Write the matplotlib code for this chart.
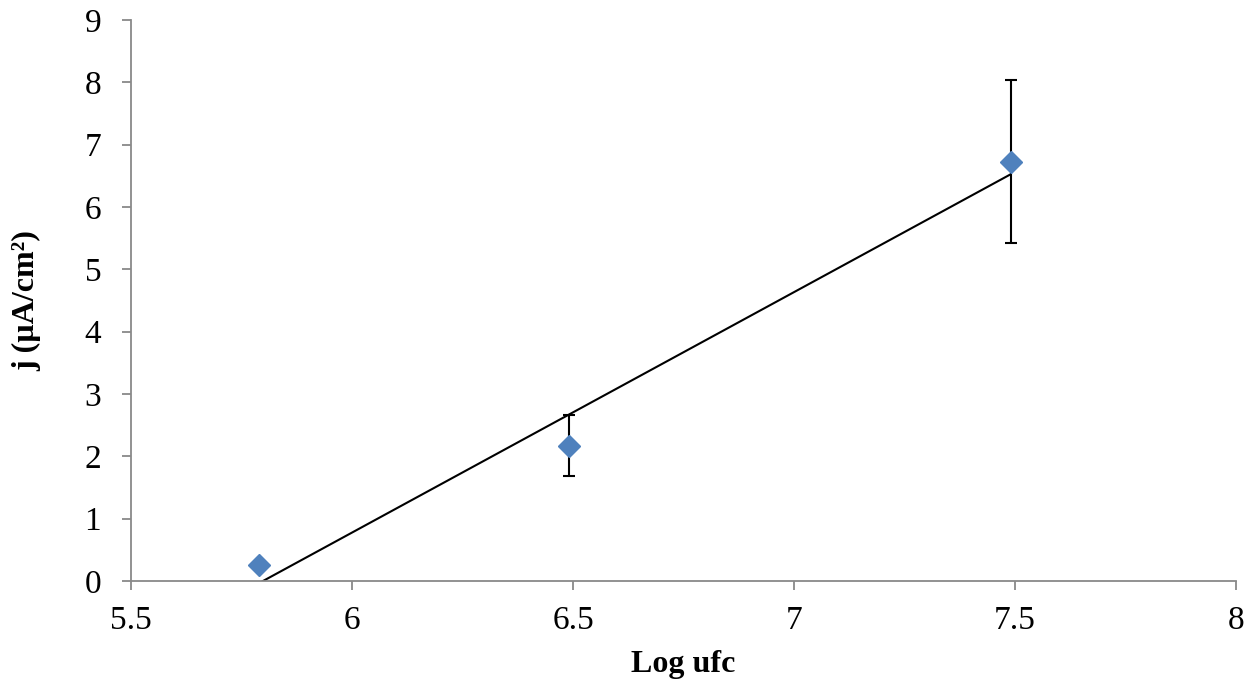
import numpy as np
import matplotlib.pyplot as plt

plt.rcParams['font.family'] = ['Liberation Serif', 'DejaVu Serif']

log_ufc = np.array([5.79, 6.49, 7.49])
j_vals = np.array([0.26, 2.17, 6.73])
j_err = np.array([0.0, 0.49, 1.30])

fig = plt.figure(figsize=(12.55, 6.81), dpi=100)
ax = fig.add_axes([0.1044, 0.1468, 0.8805, 0.8238])

# linear trendline
slope, icpt = np.polyfit(log_ufc, j_vals, 1)
xs = np.array([log_ufc.min(), log_ufc.max()])
ax.plot(xs, slope * xs + icpt, color='black', lw=1.5, zorder=2)

ax.errorbar(log_ufc, j_vals, yerr=j_err, fmt='none', ecolor='black',
            elinewidth=1.5, capsize=4.5, capthick=1.5, zorder=3)
ax.plot(log_ufc, j_vals, 'D', color='#4F81BD', markersize=11, zorder=4)

ax.set_xlim(5.5, 8)
ax.set_ylim(0, 9)
ax.set_xticks([5.5, 6, 6.5, 7, 7.5, 8])
ax.set_xticklabels(['5.5', '6', '6.5', '7', '7.5', '8'])
ax.set_yticks(range(0, 10))

for s in ['top', 'right']:
    ax.spines[s].set_visible(False)
for s in ['left', 'bottom']:
    ax.spines[s].set_color('#898989')
    ax.spines[s].set_linewidth(1.3)
ax.tick_params(axis='both', colors='#898989', labelcolor='black', labelsize=24,
               length=6.5, width=1.3)
ax.tick_params(axis='x', pad=11)
ax.tick_params(axis='y', pad=15)

ax.set_xlabel('Log ufc', fontsize=23, fontweight='bold', labelpad=10)
ax.set_ylabel('j (µA/cm²)', fontsize=23, fontweight='bold', labelpad=31)

fig.savefig('out.png', dpi=100)
